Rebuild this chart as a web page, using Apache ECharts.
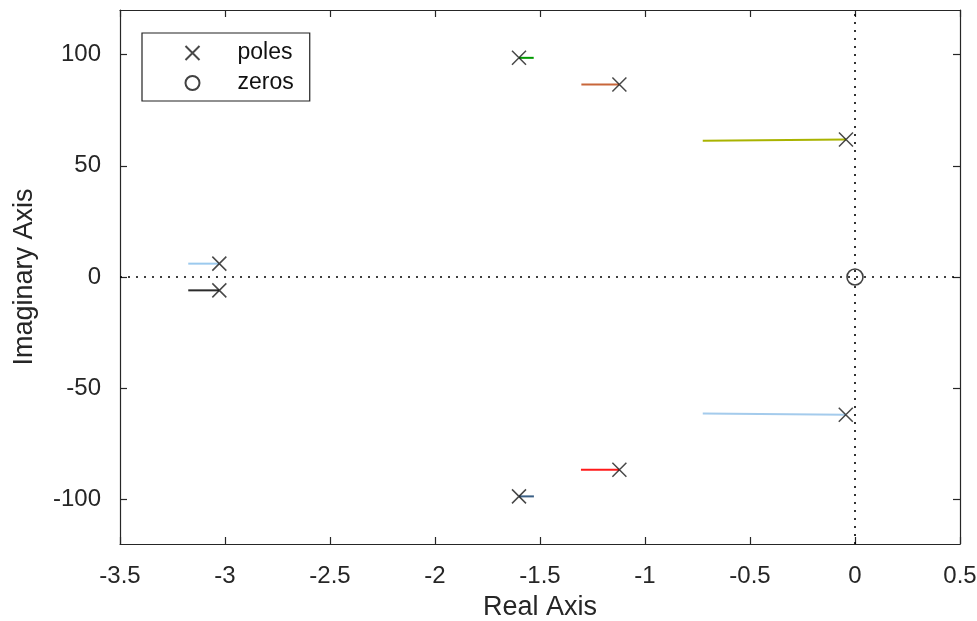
<!DOCTYPE html>
<html>
<head>
<meta charset="utf-8">
<script src="https://cdn.jsdelivr.net/npm/echarts@6/dist/echarts.min.js"></script>
<style>html,body{margin:0;padding:0;background:#fff}#c{width:977px;height:621px}</style>
</head>
<body>
<div id="c"></div>
<script>
// ---- data ----
const xTicks = [-3.5, -3, -2.5, -2, -1.5, -1, -0.5, 0, 0.5];
const yTicks = [-100, -50, 0, 50, 100];
const poleRe = [-1.600, -1.122, -0.043, -3.027, -3.027, -0.044, -1.122, -1.600];
const poleIm = [98.5, 86.5, 61.8, 6.0, -6.0, -61.9, -86.6, -98.6];
const zeroRe = [0];
const zeroIm = [0];
// locus branch segments (start, end) per pole
const branchRe0 = [-1.600, -1.303, -0.725, -3.175, -3.175, -0.725, -1.305, -1.600];
const branchIm0 = [98.5, 86.5, 61.2, 6.0, -6.0, -61.4, -86.6, -98.6];
const branchRe1 = [-1.530, -1.122, -0.043, -3.027, -3.027, -0.044, -1.122, -1.529];
const branchIm1 = [98.5, 86.5, 61.8, 6.0, -6.0, -61.9, -86.6, -98.6];
const branchColors = ['#009a00', '#c8663a', '#a9b300', '#9ccaee', '#2b2b2b', '#a4cbec', '#ff1a1a', '#3a5f85'];

const FONT = 'Liberation Sans';
const TXT = '#262626';
const FS = 24;

const series = [];
for (let i = 0; i < branchRe0.length; i++) {
  series.push({
    type: 'line', name: 'branch' + i, silent: true, symbol: 'none',
    data: [[branchRe0[i], branchIm0[i]], [branchRe1[i], branchIm1[i]]],
    lineStyle: { color: branchColors[i], width: 2 }, z: 2
  });
}
series.push({
  type: 'line', name: 'axes0', silent: true, symbol: 'none', data: [],
  markLine: {
    silent: true, symbol: 'none', label: { show: false },
    lineStyle: { color: '#000', type: [2, 6], width: 1.6 },
    data: [{ xAxis: 0 }, { yAxis: 0 }]
  }, z: 1
});
series.push({
  type: 'scatter', name: 'poles',
  data: poleRe.map((r, i) => [r, poleIm[i]]),
  symbol: 'path://M0,0L10,10M10,0L0,10', symbolSize: 14,
  itemStyle: { color: 'none', borderColor: '#1a1a1a', borderWidth: 1.5 }, z: 5
});
series.push({
  type: 'scatter', name: 'zeros',
  data: zeroRe.map((r, i) => [r, zeroIm[i]]),
  symbol: 'circle', symbolSize: 16,
  itemStyle: { color: 'none', borderColor: '#111', borderWidth: 1.6 }, z: 5
});

const axisLineStyle = { color: '#262626', width: 1.2 };
const option = {
  animation: false,
  backgroundColor: '#fff',
  textStyle: { fontFamily: FONT },
  grid: { left: 120, right: 17, top: 10, bottom: 77, show: false, outerBoundsMode: 'none', containLabel: false },
  legend: {
    orient: 'vertical', left: 142, top: 33,
    data: ['poles', 'zeros'],
    itemWidth: 14, itemHeight: 14, itemGap: 4,
    padding: [7, 16, 5, 41],
    borderColor: '#222', borderWidth: 1.2, backgroundColor: '#fff',
    textStyle: { fontFamily: FONT, fontSize: 23, color: '#111', lineHeight: 26, padding: [0, 0, 0, 33] }
  },
  xAxis: [{
    type: 'value', min: -3.5, max: 0.5, interval: 0.5,
    name: 'Real Axis', nameLocation: 'middle', nameGap: 50,
    nameTextStyle: { fontFamily: FONT, fontSize: 27, color: TXT },
    axisLine: { show: true, onZero: false, lineStyle: axisLineStyle },
    axisTick: { show: true, inside: true, length: 7, lineStyle: axisLineStyle },
    axisLabel: { fontFamily: FONT, fontSize: FS, color: TXT, margin: 20,
      customValues: xTicks, formatter: v => String(v) },
    splitLine: { show: false }
  }, {
    type: 'value', min: -3.5, max: 0.5, interval: 0.5, position: 'top',
    axisLine: { show: true, onZero: false, lineStyle: axisLineStyle },
    axisTick: { show: true, inside: true, length: 7, lineStyle: axisLineStyle },
    axisLabel: { show: false }, splitLine: { show: false }
  }],
  yAxis: [{
    type: 'value', min: -120, max: 120,
    name: 'Imaginary Axis', nameLocation: 'middle', nameGap: 82,
    nameTextStyle: { fontFamily: FONT, fontSize: 27, color: TXT },
    axisLine: { show: true, onZero: false, lineStyle: axisLineStyle },
    axisTick: { show: true, inside: true, length: 7, lineStyle: axisLineStyle, customValues: yTicks },
    axisLabel: { fontFamily: FONT, fontSize: FS, color: TXT, margin: 19, customValues: yTicks },
    splitLine: { show: false }
  }, {
    type: 'value', min: -120, max: 120, position: 'right',
    axisLine: { show: true, onZero: false, lineStyle: axisLineStyle },
    axisTick: { show: true, inside: true, length: 7, lineStyle: axisLineStyle, customValues: yTicks },
    axisLabel: { show: false }, splitLine: { show: false }
  }],
  series: series
};
const chart = echarts.init(document.getElementById('c'), null, { renderer: 'canvas' });
chart.setOption(option);
</script>
</body>
</html>
